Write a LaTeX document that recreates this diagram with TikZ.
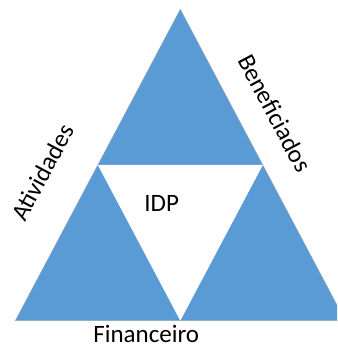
\documentclass[tikz,border=0pt]{standalone}
\usepackage{fontspec}
\setmainfont{Carlito}
\usetikzlibrary{positioning, calc}
\definecolor{partblue}{RGB}{91,155,213}
\definecolor{partedge}{RGB}{150,165,180}
\tikzset{
    part/.style={fill=partblue, draw=partedge, line width=0.4pt, line join=miter},
    hole/.style={fill=white, draw=none},
    lbl/.style={text=black, inner sep=0pt, font=\fontsize{25}{29}\selectfont}
}

\begin{document}
\begin{tikzpicture}[x=1pt, y=1pt]
\useasboundingbox (0,0) rectangle (337,347);
\fill[white] (0,0) rectangle (337,347);

% corners of the big triangle
\coordinate (apex) at (180.3,337.7);
\coordinate (left) at (15.3,26.3);
\coordinate (right) at (345.3,26.3);
% midpoints of the sides
\coordinate (midL) at ($(apex)!0.5!(left)$);
\coordinate (midR) at ($(apex)!0.5!(right)$);
\coordinate (midB) at ($(left)!0.5!(right)$);

\begin{scope}
\clip (0,0) rectangle (337,347);
\draw[part] (apex) -- (left) -- (right) -- cycle;
\draw[hole] (midL) -- (midR) -- (midB) -- cycle;
\end{scope}

\node[lbl, anchor=base] (idp) at (161.7,135.3) {IDP};
\node[lbl, anchor=base] (fin) at (146.2,4.8) {Financeiro};
\node[lbl, rotate=62] (ativ) at (42.5,174.5) {Atividades};
\node[lbl, rotate=-62] (benef) at (275,234) {Beneficiados};

\end{tikzpicture}
\end{document}
